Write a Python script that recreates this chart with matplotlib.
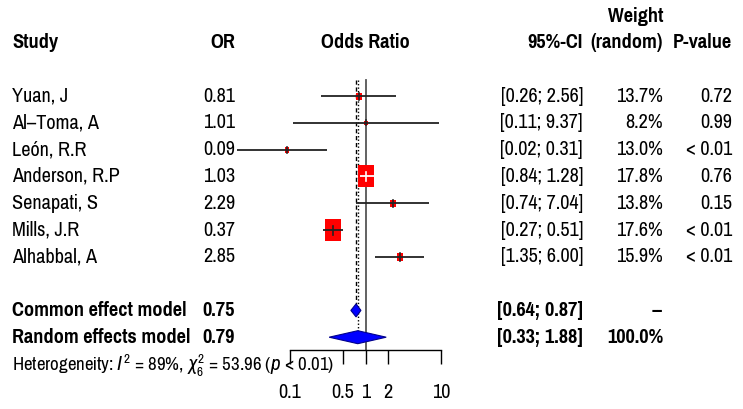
import numpy as np
import matplotlib
matplotlib.use("Agg")
import matplotlib.pyplot as plt
from matplotlib.path import Path
from matplotlib.patches import Polygon
from matplotlib import font_manager as fm

# ---------------- data ----------------
studies = ["Yuan, J", "Al\u2013Toma, A", "Le\u00f3n, R.R", "Anderson, R.P",
           "Senapati, S", "Mills, J.R", "Alhabbal, A"]
or_vals = [0.81, 1.01, 0.09, 1.03, 2.29, 0.37, 2.85]
ci_low = [0.26, 0.11, 0.02, 0.84, 0.74, 0.27, 1.35]
ci_high = [2.56, 9.37, 0.31, 1.28, 7.04, 0.51, 6.00]
weights = ["13.7%", "8.2%", "13.0%", "17.8%", "13.8%", "17.6%", "15.9%"]
pvals = ["0.72", "0.99", "< 0.01", "0.76", "0.15", "< 0.01", "< 0.01"]

common_or, common_lo, common_hi = 0.75, 0.64, 0.87
random_or, random_lo, random_hi = 0.79, 0.33, 1.88
model_weights = ["--", "100.0%"]

tick_vals = [0.1, 0.5, 1, 2, 10]
tick_labels = ["0.1", "0.5", "1", "2", "10"]

# ---------------- style ----------------
names = {f.name for f in fm.fontManager.ttflist}
FONT, FS = "Liberation Sans", 12.5
for cand, size in [("Pragati Narrow", 15.9), ("Roboto Condensed", 14.3),
                   ("Liberation Sans Narrow", 14.5)]:
    if cand in names:
        FONT, FS = cand, size
        break
ITFONT = FONT
for cand in ["Roboto Condensed", "Archivo Narrow", "Liberation Sans"]:
    if cand in names:
        ITFONT = cand
        break
plt.rcParams["font.family"] = [FONT, "DejaVu Sans"]
plt.rcParams["mathtext.fontset"] = "custom"
plt.rcParams["mathtext.rm"] = FONT
plt.rcParams["mathtext.it"] = ITFONT + ":italic"
plt.rcParams["mathtext.bf"] = FONT + ":bold"
plt.rcParams["mathtext.fallback"] = "stixsans"

box_h_px = [7, 5, 6, 23, 7, 23, 7.5]   # marker heights (pixels)
box_aspect = 0.72

W, H = 743, 409
DPI = 100
fig = plt.figure(figsize=(W / DPI, H / DPI), dpi=DPI)

ROW0, ROWSTEP = 96.0, 26.8


def row_px(i):
    return ROW0 + ROWSTEP * i


# text layer in pixel coordinates
tax = fig.add_axes([0, 0, 1, 1])
tax.set_xlim(0, W)
tax.set_ylim(H, 0)
tax.axis("off")

# forest axes
ax_left, ax_right = 290, 441
ax_top, ax_bot = 80, 350
ax = fig.add_axes([ax_left / W, (H - ax_bot) / H, (ax_right - ax_left) / W,
                   (ax_bot - ax_top) / H])
ax.set_xscale("log")
ax.set_xlim(0.1, 10)
ax.set_ylim((ax_bot - ROW0) / ROWSTEP, (ax_top - ROW0) / ROWSTEP)
ax.patch.set_visible(False)
for s in ["top", "right", "left"]:
    ax.spines[s].set_visible(False)
ax.spines["bottom"].set_linewidth(1.0)
ax.set_yticks([])
ax.set_xticks(tick_vals)
ax.set_xticklabels(tick_labels)
ax.minorticks_off()
ax.tick_params(axis="x", direction="out", length=10, width=1.0,
               labelsize=FS, pad=14, colors="black")

ytop = ax.get_ylim()[1]
ybot = ax.get_ylim()[0]
n = len(studies)
i_common = n + 1
i_random = n + 2
dh = 6.5 / ROWSTEP

# reference lines
ax.plot([1, 1], [ytop, ybot], color="#555555", lw=1.3, clip_on=False, zorder=1)
ax.plot([common_or, common_or], [ytop, i_common - dh], color="black", lw=1.0,
        ls=(0, (3, 2)), clip_on=False, zorder=1)
ax.plot([random_or, random_or], [ytop, i_random - dh], color="black", lw=1.0,
        ls=(0, (1, 1.5)), clip_on=False, zorder=1)

rect = Path([(-box_aspect / 2, -0.5), (box_aspect / 2, -0.5),
             (box_aspect / 2, 0.5), (-box_aspect / 2, 0.5), (-box_aspect / 2, -0.5)],
            [Path.MOVETO, Path.LINETO, Path.LINETO, Path.LINETO, Path.CLOSEPOLY])

fig.canvas.draw()
for i in range(n):
    ax.plot([or_vals[i]], [i], marker=rect, markersize=box_h_px[i] * 0.72,
            color="#FF0000", markeredgewidth=0, ls="none", clip_on=False, zorder=3)
    x_lo = ax.transData.transform((ci_low[i], i))[0]
    x_hi = ax.transData.transform((ci_high[i], i))[0]
    x_c = ax.transData.transform((or_vals[i], i))[0]
    half_w = box_h_px[i] * box_aspect / 2
    inside = (x_c - x_lo) < half_w and (x_hi - x_c) < half_w
    col = "white" if inside else "#222222"
    ax.plot([ci_low[i], ci_high[i]], [i, i], color=col, lw=1.3,
            clip_on=False, zorder=4, solid_capstyle="butt")
    th = min(box_h_px[i], 9.0) / 2 / ROWSTEP
    ax.plot([or_vals[i], or_vals[i]], [i - th, i + th], color=col, lw=1.2,
            clip_on=False, zorder=4)

for (est, lo, hi, yi) in [(common_or, common_lo, common_hi, i_common),
                          (random_or, random_lo, random_hi, i_random)]:
    poly = Polygon([(lo, yi), (est, yi - dh), (hi, yi), (est, yi + dh)],
                   closed=True, facecolor="#0000FF", edgecolor="#00008B",
                   lw=0.8, clip_on=False, zorder=3)
    ax.add_patch(poly)

# ---------------- text ----------------
X_STUDY, X_OR, X_ODDS = 12, 235, 365
X_CI, X_W, X_P = 583, 663, 732
Y_HEAD, Y_WHEAD = 42, 17

hkw = dict(fontsize=FS, fontweight="bold", va="center")
tax.text(X_STUDY, Y_HEAD, "Study", ha="left", **hkw)
tax.text(X_OR, Y_HEAD, "OR", ha="right", **hkw)
tax.text(X_ODDS, Y_HEAD, "Odds Ratio", ha="center", **hkw)
tax.text(X_CI, Y_HEAD, "95%-CI", ha="right", **hkw)
tax.text(X_W, Y_HEAD, "(random)", ha="right", **hkw)
tax.text(X_P, Y_HEAD, "P-value", ha="right", **hkw)
tax.text(X_W, Y_WHEAD, "Weight", ha="right", **hkw)

kw = dict(fontsize=FS, va="center")
for i in range(n):
    y = row_px(i)
    tax.text(X_STUDY, y, studies[i], ha="left", **kw)
    tax.text(X_OR, y, f"{or_vals[i]:.2f}", ha="right", **kw)
    tax.text(X_CI, y, f"[{ci_low[i]:.2f}; {ci_high[i]:.2f}]", ha="right", **kw)
    tax.text(X_W, y, weights[i], ha="right", **kw)
    tax.text(X_P, y, pvals[i], ha="right", **kw)

bkw = dict(fontsize=FS, va="center", fontweight="bold")
for (label, est, lo, hi, yi, wt) in [
        ("Common effect model", common_or, common_lo, common_hi, i_common, model_weights[0]),
        ("Random effects model", random_or, random_lo, random_hi, i_random, model_weights[1])]:
    y = row_px(yi)
    tax.text(X_STUDY, y, label, ha="left", **bkw)
    tax.text(X_OR, y, f"{est:.2f}", ha="right", **bkw)
    tax.text(X_CI, y, f"[{lo:.2f}; {hi:.2f}]", ha="right", **bkw)
    tax.text(X_W, y, wt, ha="right", **bkw)

tax.text(X_STUDY, 366,
         r"Heterogeneity: $I^2$ = 89%, $\chi^2_6$ = 53.96 ($p$ < 0.01)",
         ha="left", va="center", fontsize=FS * 0.93)

fig.savefig("out.png", dpi=DPI)
